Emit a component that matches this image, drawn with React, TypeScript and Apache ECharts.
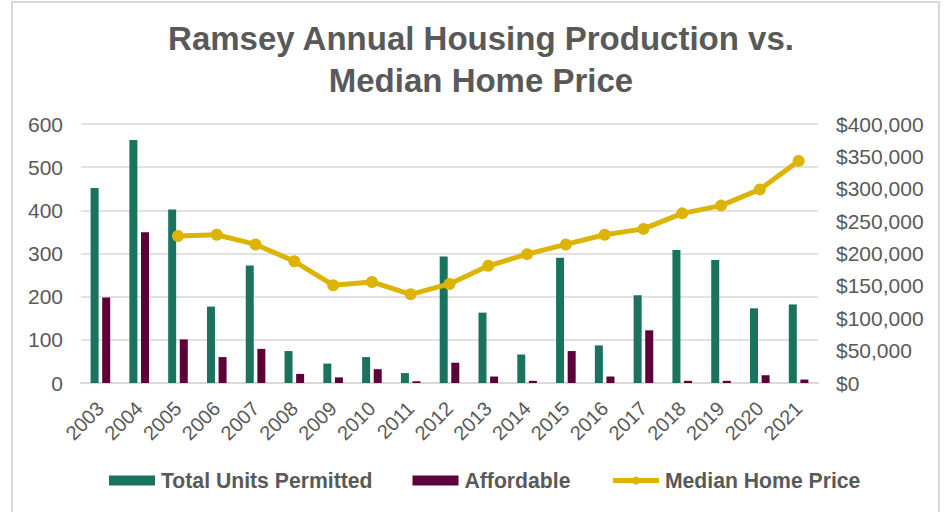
import React, { useEffect, useRef } from "react";
import * as echarts from "echarts";

const years = ["2003","2004","2005","2006","2007","2008","2009","2010","2011","2012","2013","2014","2015","2016","2017","2018","2019","2020","2021"];
const totalUnits = [452, 563, 402, 177, 272, 74, 45, 60, 23, 293, 163, 66, 290, 87, 203, 308, 285, 173, 182];
const affordable = [198, 349, 101, 60, 79, 21, 13, 32, 4, 47, 15, 5, 74, 15, 122, 5, 5, 18, 8];
const medianPrice = [null, null, 227000, 229000, 214000, 188000, 151000, 156000, 137000, 153000, 181000, 199000, 214000, 229000, 238000, 262000, 274000, 299000, 343000];

const FONT = '"Liberation Sans", Arial, sans-serif';
const GRAY = "#595959";
const TEAL = "#19735F";
const MAROON = "#5B0039";
const GOLD = "#DDB306";

export default function App() {
  const ref = useRef<HTMLDivElement>(null);
  useEffect(() => {
    if (!ref.current) return;
    const chart = echarts.init(ref.current, null, { renderer: "svg" });
    chart.setOption({
      animation: false,
      backgroundColor: "#ffffff",
      textStyle: { fontFamily: FONT },
      title: {
        text: "Ramsey Annual Housing Production vs.\nMedian Home Price",
        left: 476,
        textAlign: "center",
        top: 12,
        textStyle: { fontFamily: FONT, fontSize: 33, fontWeight: "bold", color: GRAY, lineHeight: 42 },
      },
      graphic: [
        {
          type: "rect",
          shape: { x: 12, y: 2, width: 927, height: 540 },
          style: { fill: "none", stroke: "#d9d9d9", lineWidth: 2 },
          silent: true,
        },
      ],
      legend: {
        left: 104,
        top: 465,
        itemWidth: 46,
        itemHeight: 10,
        itemGap: 40,
        textStyle: { fontFamily: FONT, fontSize: 21.2, fontWeight: "bold", color: GRAY, padding: [0, 0, 0, 1] },
        data: [
          { name: "Total Units Permitted", icon: "rect" },
          { name: "Affordable", icon: "rect" },
          { name: "Median Home Price", lineStyle: { width: 5, color: GOLD }, itemStyle: { color: GOLD } },
        ],
      },
      grid: { left: 81, right: 126, top: 124, bottom: 129 },
      xAxis: {
        type: "category",
        data: years,
        axisLine: { lineStyle: { color: "#d9d9d9", width: 2 } },
        axisTick: { show: false },
        axisLabel: { interval: 0, rotate: 45, fontSize: 20, color: GRAY, fontFamily: FONT, margin: 22 },
      },
      yAxis: [
        {
          type: "value",
          min: 0,
          max: 600,
          interval: 100,
          axisLine: { show: false },
          axisTick: { show: false },
          splitLine: { lineStyle: { color: "#d9d9d9", width: 1.5 } },
          axisLabel: { fontSize: 21, color: GRAY, fontFamily: FONT, margin: 18 },
        },
        {
          type: "value",
          min: 0,
          max: 400000,
          interval: 50000,
          position: "right",
          axisLine: { show: false },
          axisTick: { show: false },
          splitLine: { show: false },
          axisLabel: {
            fontSize: 21,
            color: GRAY,
            fontFamily: FONT,
            margin: 18,
            formatter: (v: number) => "$" + v.toLocaleString("en-US"),
          },
        },
      ],
      series: [
        {
          name: "Total Units Permitted",
          type: "bar",
          data: totalUnits,
          barWidth: 8,
          barGap: "45%",
          itemStyle: { color: TEAL },
        },
        {
          name: "Affordable",
          type: "bar",
          data: affordable,
          barWidth: 8,
          itemStyle: { color: MAROON },
        },
        {
          name: "Median Home Price",
          type: "line",
          yAxisIndex: 1,
          data: medianPrice,
          symbol: "circle",
          symbolSize: 12,
          lineStyle: { color: GOLD, width: 5 },
          itemStyle: { color: GOLD },
        },
      ],
    });
    return () => chart.dispose();
  }, []);
  return (
    <div style={{ position: "fixed", left: 0, top: 0, width: 944, height: 512, background: "#fff" }}>
      <div ref={ref} style={{ width: 944, height: 512 }} />
    </div>
  );
}
